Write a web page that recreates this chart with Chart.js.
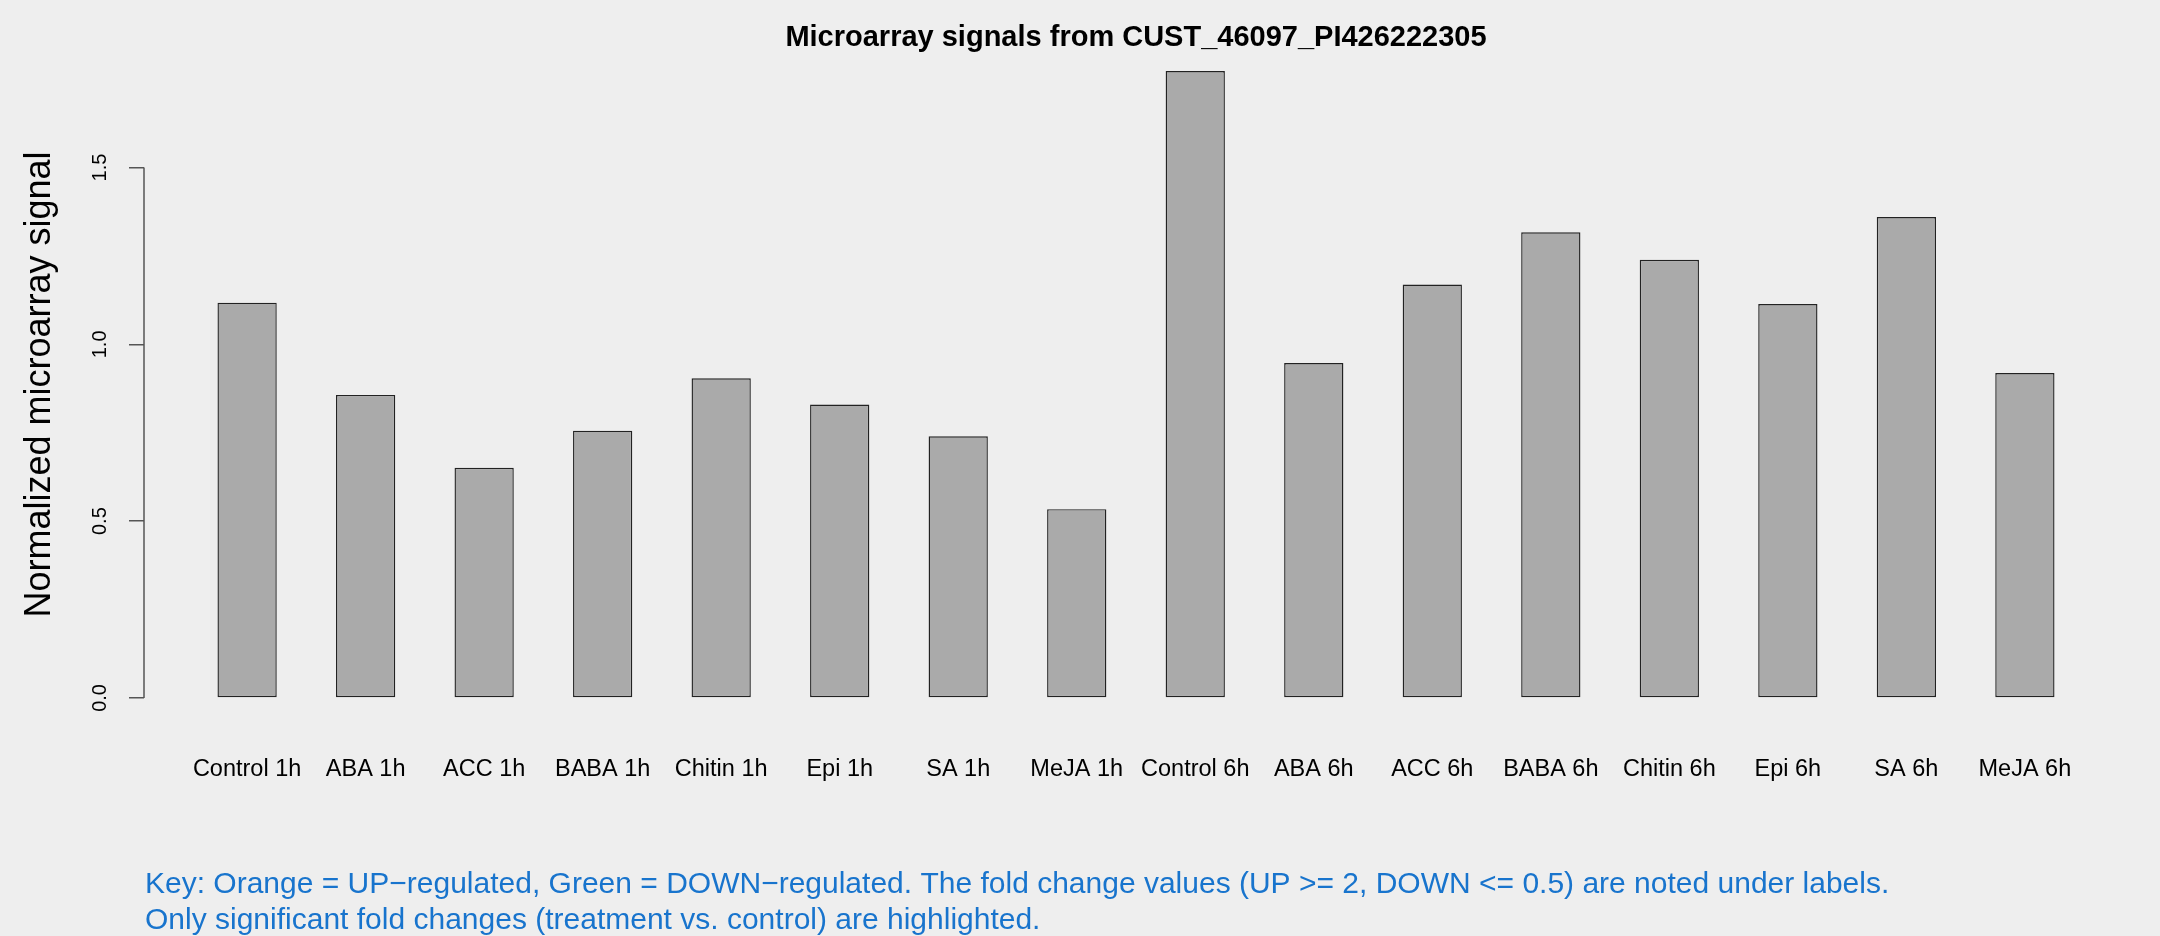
<!DOCTYPE html>
<html>
<head>
<meta charset="utf-8">
<title>Microarray signals from CUST_46097_PI426222305</title>
<script src="https://cdn.jsdelivr.net/npm/chart.js@4.4.0/dist/chart.umd.min.js"></script>
<style>
  html, body { margin: 0; padding: 0; background: #eeeeee; }
  canvas { display: block; }
</style>
</head>
<body>
<canvas id="signalChart" width="2160" height="936"></canvas>
<script>
// values
const samples = ['Control 1h', 'ABA 1h', 'ACC 1h', 'BABA 1h', 'Chitin 1h', 'Epi 1h', 'SA 1h', 'MeJA 1h',
                 'Control 6h', 'ABA 6h', 'ACC 6h', 'BABA 6h', 'Chitin 6h', 'Epi 6h', 'SA 6h', 'MeJA 6h'];
const signals = [1.118, 0.857, 0.651, 0.756, 0.904, 0.830, 0.740, 0.534,
                 1.773, 0.947, 1.169, 1.317, 1.239, 1.114, 1.360, 0.919];
const yTicks = [0, 0.5, 1.0, 1.5];
const chartTitle = 'Microarray signals from CUST_46097_PI426222305';
const yTitle = 'Normalized microarray signal';
const keyLines = [
  'Key: Orange = UP\u2212regulated, Green = DOWN\u2212regulated. The fold change values (UP >= 2, DOWN <= 0.5) are noted under labels.',
  'Only significant fold changes (treatment vs. control) are highlighted.'
];

const FONT = "'Liberation Sans', Arial, Helvetica, sans-serif";
Chart.defaults.font.family = FONT;

// barplot style placement: bar i spans [2i+1, 2i+2], axis range padded by 4%
const centers = samples.map((s, i) => 2 * i + 1.5);
const xSpan = 2 * samples.length - 1;
const yMax = Math.max(...signals);

const annotate = {
  id: 'annotate',
  afterDraw(chart) {
    const {ctx, chartArea, scales} = chart;
    const y = scales.y;
    ctx.save();
    // R draws the axis line only from the first to the last tick
    ctx.strokeStyle = '#555';
    ctx.lineWidth = 1.5;
    ctx.beginPath();
    ctx.moveTo(chartArea.left, y.getPixelForValue(yTicks[0]));
    ctx.lineTo(chartArea.left, y.getPixelForValue(yTicks[yTicks.length - 1]));
    ctx.stroke();

    ctx.fillStyle = '#000';
    ctx.font = 'bold 29px ' + FONT;
    ctx.textAlign = 'center';
    ctx.textBaseline = 'alphabetic';
    ctx.fillText(chartTitle, (chartArea.left + chartArea.right) / 2, 46);

    ctx.fillStyle = '#1874cd';
    ctx.font = '30px ' + FONT;
    ctx.textAlign = 'left';
    keyLines.forEach((t, i) => ctx.fillText(t, chartArea.left + 1, 893 + i * 36));
    ctx.restore();
  }
};

new Chart(document.getElementById('signalChart'), {
  type: 'bar',
  data: {
    datasets: [{
      data: signals.map((v, i) => ({x: centers[i], y: v})),
      backgroundColor: '#aaaaaa',
      borderColor: '#222',
      borderWidth: 1.4,
      borderSkipped: false,
      barPercentage: 0.5,
      categoryPercentage: 1.0
    }]
  },
  options: {
    responsive: false,
    animation: false,
    devicePixelRatio: 1,
    layout: { padding: { top: 46, right: 32, bottom: 0, left: 0 } },
    plugins: {
      legend: { display: false },
      tooltip: { enabled: false }
    },
    scales: {
      x: {
        type: 'linear',
        offset: false,
        min: 1 - 0.04 * xSpan,
        max: 2 * samples.length + 0.04 * xSpan,
        grid: { display: false, drawTicks: false },
        border: { display: false },
        afterBuildTicks: axis => { axis.ticks = centers.map(v => ({value: v})); },
        afterFit: axis => { axis.height = 213; },
        ticks: {
          autoSkip: false,
          maxRotation: 0,
          padding: 32,
          color: '#000',
          font: { size: 23.5 },
          callback: (v, i) => samples[i]
        }
      },
      y: {
        min: -0.04 * yMax,
        max: 1.04 * yMax,
        grid: { drawOnChartArea: false, drawTicks: true, tickLength: 15, color: '#555', lineWidth: 1.5 },
        border: { display: false },
        afterBuildTicks: axis => { axis.ticks = yTicks.map(v => ({value: v})); },
        afterFit: axis => { axis.width = 144; },
        title: {
          display: true,
          text: yTitle,
          color: '#000',
          font: { size: 36 },
          padding: { top: 18, bottom: 0 }
        },
        ticks: {
          minRotation: 90,
          maxRotation: 90,
          crossAlign: 'center',
          padding: 15,
          color: '#000',
          font: { size: 20 },
          callback: v => v.toFixed(1)
        }
      }
    }
  },
  plugins: [annotate]
});
</script>
</body>
</html>
